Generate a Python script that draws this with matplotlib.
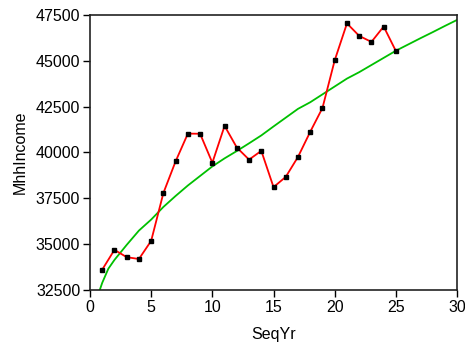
import matplotlib
matplotlib.use("Agg")
import matplotlib.pyplot as plt

# observed series (red, with markers)
seq_yr = [1, 2, 3, 4, 5, 6, 7, 8, 9, 10, 11, 12, 13, 14, 15, 16, 17, 18, 19, 20, 21, 22, 23, 24, 25]
mhh_income = [33610, 34690, 34290, 34190, 35180, 37790, 39520, 41030, 41020, 39440, 41450, 40270, 39610,
              40090, 38110, 38670, 39760, 41130, 42430, 45030, 47040, 46360, 46030, 46870, 45530]

# fitted curve (green)
fit_x = [0.8, 1, 1.5, 2, 3, 4, 5, 6, 7, 8, 9, 10, 11, 12, 13, 14, 15, 16, 17, 18, 19, 20, 21, 22, 23,
         24, 25, 26, 27, 28, 29, 30]
fit_y = [32500, 32890, 33660, 34140, 34960, 35740, 36340, 37030, 37630, 38200, 38720, 39240, 39680,
         40080, 40500, 40930, 41420, 41900, 42380, 42740, 43170, 43600, 44030, 44380, 44770, 45160,
         45550, 45890, 46230, 46560, 46900, 47230]

plt.rcParams['font.family'] = ['Liberation Sans', 'DejaVu Sans']

fig = plt.figure(figsize=(4.65, 3.48), dpi=100)
ax = fig.add_axes([0.1935, 0.1667, 0.7895, 0.7903])

ax.plot(fit_x, fit_y, color='#00c000', lw=1.3, zorder=2)
ax.plot(seq_yr, mhh_income, color='#ff0000', lw=1.3, zorder=3)
ax.plot(seq_yr, mhh_income, ls='none', marker='s', ms=3.5, color='black', zorder=4)

ax.set_xlim(0, 30)
ax.set_ylim(32500, 47500)
ax.set_xticks([0, 5, 10, 15, 20, 25, 30])
ax.set_yticks([32500, 35000, 37500, 40000, 42500, 45000, 47500])
ax.tick_params(direction='out', length=5, width=1, labelsize=11.5, colors='black', pad=2)
for s in ax.spines.values():
    s.set_linewidth(1.2)
    s.set_color('#222222')
ax.set_xlabel('SeqYr', fontsize=11.5, labelpad=9)
ax.set_ylabel('MhhIncome', fontsize=11.5, labelpad=6)

fig.savefig('out.png', dpi=100)
